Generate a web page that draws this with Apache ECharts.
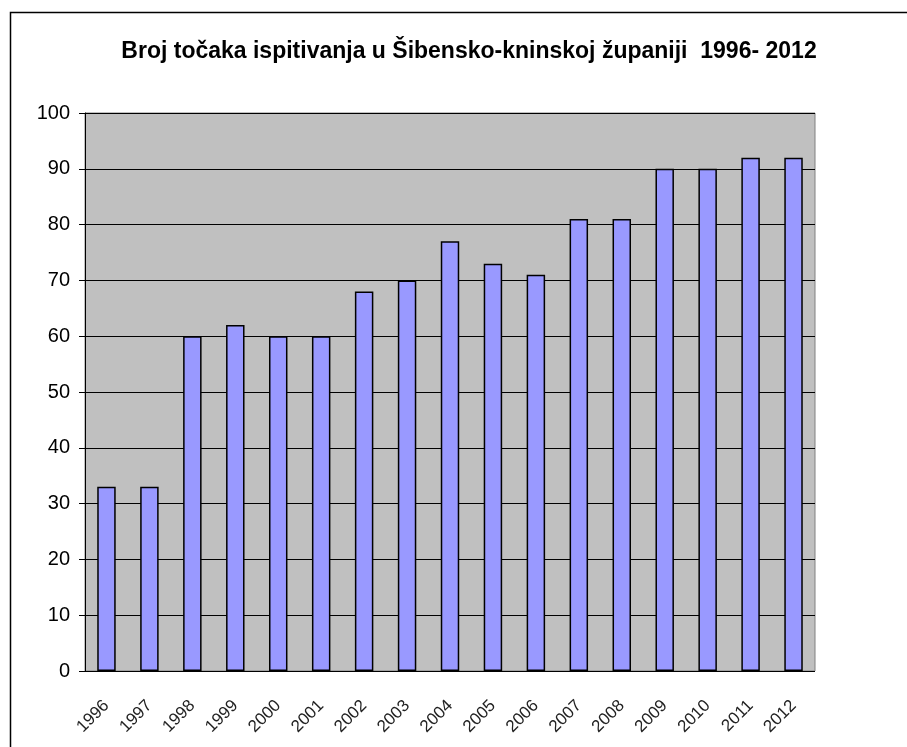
<!DOCTYPE html>
<html lang="hr">
<head>
    <meta charset="UTF-8">
    <title>Broj točaka ispitivanja</title>
    <script src="https://cdn.jsdelivr.net/npm/echarts@6/dist/echarts.min.js"></script>
    <style>
        body { margin: 0; background: #fff; }
        #main { width: 907px; height: 747px; }
    </style>
</head>
<body>
    <div id="main"></div>
    <script>
        // godine i broj točaka
        var godine = ['1996', '1997', '1998', '1999', '2000', '2001', '2002', '2003', '2004',
            '2005', '2006', '2007', '2008', '2009', '2010', '2011', '2012'];
        var brojTocaka = [33, 33, 60, 62, 60, 60, 68, 70, 77, 73, 71, 81, 81, 90, 90, 92, 92];
        var yMin = 0, yMax = 100, yStep = 10;

        var myChart = echarts.init(document.getElementById('main'));
        var option = {
            animation: false,
            textStyle: { fontFamily: 'Liberation Sans, Arial, sans-serif' },
            title: {
                text: 'Broj točaka ispitivanja u Šibensko-kninskoj županiji  1996- 2012',
                left: 464,
                textAlign: 'center',
                top: 35,
                textStyle: { fontSize: 23, fontWeight: 'bold', color: '#000' }
            },
            // vanjski okvir
            graphic: [{
                type: 'rect',
                shape: { x: 10.5, y: 12.5, width: 1000, height: 1000 },
                style: { fill: null, stroke: '#000', lineWidth: 1.5 },
                silent: true
            }],
            grid: {
                left: 85, top: 113, right: 92, bottom: 76,
                show: true,
                backgroundColor: '#c0c0c0',
                borderColor: '#808080',
                borderWidth: 1
            },
            xAxis: {
                type: 'category',
                data: godine,
                axisLine: { show: false },
                axisTick: { show: false },
                axisLabel: {
                    interval: 0, rotate: 45, margin: 32,
                    fontSize: 17, color: '#222'
                }
            },
            yAxis: {
                type: 'value',
                min: yMin, max: yMax, interval: yStep,
                axisLine: { show: true, lineStyle: { color: '#000', width: 1 } },
                axisTick: { show: true, length: 6, lineStyle: { color: '#000' } },
                axisLabel: { fontSize: 20, color: '#000', margin: 15 },
                splitLine: { lineStyle: { color: '#000', width: 1 } }
            },
            series: [{
                type: 'bar',
                data: brojTocaka,
                barWidth: '43%',
                itemStyle: { color: '#9999ff', borderColor: '#000', borderWidth: 1.5 }
            }]
        };
        myChart.setOption(option);
    </script>
</body>
</html>
